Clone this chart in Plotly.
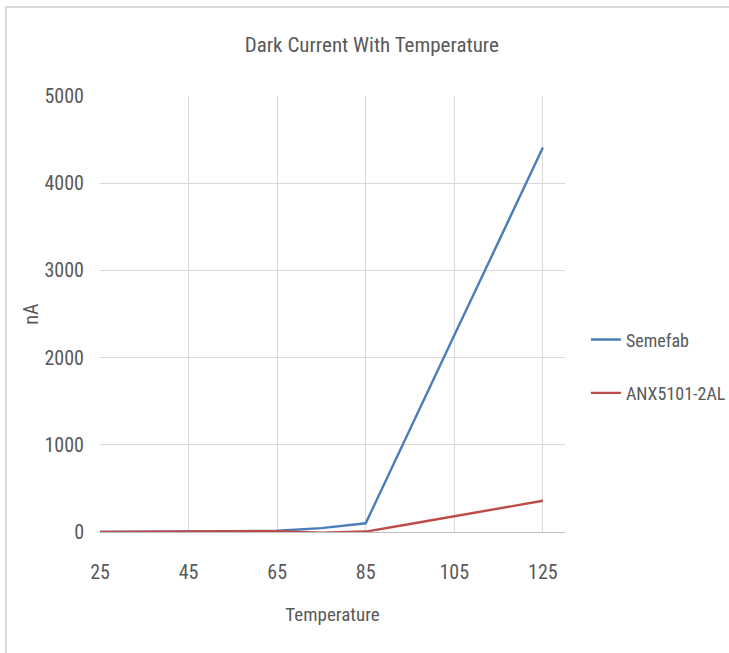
import plotly.graph_objects as go

temperature = [25, 35, 45, 55, 65, 75, 85, 95, 105, 115, 125]
semefab = [2, 3, 5, 8, 15, 45, 100, 1170, 2255, 3330, 4410]
anx5101 = [0, 1, 2, 4, 10, -8, 5, 92, 182, 270, 358]

x_ticks = [25, 45, 65, 85, 105, 125]
y_ticks = [0, 1000, 2000, 3000, 4000, 5000]

FONT = "Liberation Sans Narrow, Roboto Condensed, DejaVu Sans Condensed, Roboto, sans-serif"
TXT = "#595959"

fig = go.Figure()
fig.add_trace(go.Scatter(x=temperature, y=semefab, mode="lines", name="Semefab",
                         line=dict(color="#4a7ebb", width=2.4), legendgroup="a"))
fig.add_trace(go.Scatter(x=temperature, y=anx5101, mode="lines", name="ANX5101-2AL",
                         line=dict(color="#be4b48", width=2.4), legendgroup="b"))

fig.update_layout(
    width=729, height=653,
    margin=dict(l=100, r=164, t=96, b=121, autoexpand=False),
    paper_bgcolor="white", plot_bgcolor="white",
    font=dict(family=FONT, color=TXT, size=20),
    title=dict(text="Dark Current With Temperature", x=0.51, xanchor="center",
               y=0.931, yanchor="middle", font=dict(size=21, color=TXT, family=FONT)),
    xaxis=dict(range=[25, 130], tickvals=x_ticks, showgrid=True, gridcolor="#d9d9d9",
               gridwidth=1, zeroline=False, showline=True, linecolor="#bfbfbf", linewidth=1,
               ticks="", tickfont=dict(size=20, color=TXT), ticklabelstandoff=22,
               title=dict(text="Temperature", font=dict(size=19, color=TXT), standoff=24)),
    yaxis=dict(range=[0, 5000], tickvals=y_ticks, showgrid=True, gridcolor="#d9d9d9",
               gridwidth=1, zeroline=False, showline=False, ticks="",
               tickfont=dict(size=20, color=TXT), ticklabelstandoff=15,
               title=dict(text="nA", font=dict(size=20, color=TXT), standoff=0)),
    legend=dict(x=1.045, xanchor="left", y=0.38, yanchor="middle",
                font=dict(size=18, color=TXT), tracegroupgap=27,
                traceorder="grouped", bgcolor="rgba(0,0,0,0)"),
    shapes=[
        dict(type="line", xref="paper", yref="paper", x0=-0.205, x1=1.4,
             y0=1.204, y1=1.204, line=dict(color="#d9d9d9", width=2)),
        dict(type="line", xref="paper", yref="paper", x0=-0.2022, x1=-0.2022,
             y0=1.206, y1=-0.28, line=dict(color="#d9d9d9", width=2)),
    ],
)

fig.write_html("out.html")
